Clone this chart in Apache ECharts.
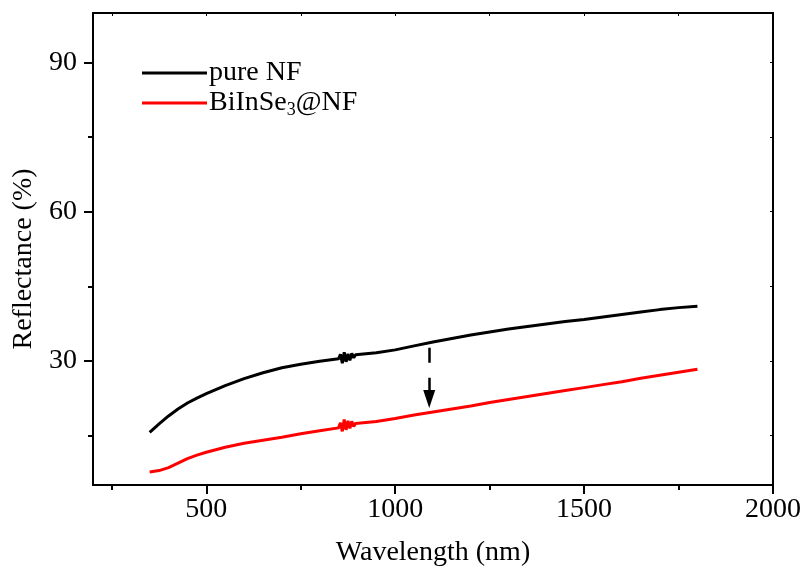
<!DOCTYPE html>
<html>
<head>
<meta charset="utf-8">
<script src="https://cdn.jsdelivr.net/npm/echarts@6/dist/echarts.min.js"></script>
<style>
html,body{margin:0;padding:0;background:#fff;}
#chart{width:806px;height:579px;}
</style>
</head>
<body>
<div id="chart"></div>
<script>
// ---- data ----
const wavelengths = [350,375,400,425,450,475,500,525,550,600,650,700,750,800,850,855,860,865,870,875,880,885,890,895,900,950,1000,1050,1100,1150,1200,1250,1300,1350,1400,1450,1500,1550,1600,1650,1700,1750,1800];
const pureNF = [15.6,17.3,18.9,20.3,21.5,22.5,23.4,24.2,25.0,26.4,27.6,28.6,29.3,29.9,30.4,31.3,29.5,31.7,29.8,31.4,30.1,31.5,30.6,31.2,31.0,31.6,32.2,33.0,33.8,34.5,35.2,35.8,36.4,36.9,37.4,37.9,38.3,38.8,39.3,39.8,40.3,40.7,41.0];
const biInSe3NF = [7.6,7.9,8.5,9.4,10.3,11.0,11.6,12.1,12.6,13.4,14.0,14.6,15.3,15.9,16.5,17.5,15.8,18.2,16.1,17.9,16.4,17.8,16.8,17.4,17.2,17.8,18.4,19.1,19.7,20.3,20.9,21.6,22.2,22.8,23.4,24.0,24.6,25.2,25.8,26.5,27.1,27.7,28.3];
const seriesNames = ['pure NF', 'BiInSe3@NF'];
const xMajorTicks = [500,1000,1500,2000];
const xMinorTicks = [250,750,1250,1750];
const yMajorTicks = [30,60,90];
const yMinorTicks = [15,45,75];
const xRange = [200, 2000];
const yRange = [5, 100];
const arrowX = 1090;
const arrowY = [32.6, 22.3];

const FONT = "'Liberation Serif','Times New Roman',serif";
const toPairs = (xs, ys) => xs.map((x, i) => [x, ys[i]]);
const plain = v => String(v);

const chart = echarts.init(document.getElementById('chart'));
const axisLine = {show: true, lineStyle: {color: '#000', width: 2}};
const labelStyle = {color: '#000', fontFamily: FONT, fontSize: 28, formatter: plain};

const option = {
  backgroundColor: '#fff',
  animation: false,
  grid: {left: 93, right: 33, top: 13, bottom: 94, containLabel: false, outerBoundsMode: 'none'},
  legend: {
    orient: 'vertical', left: 137, top: 54,
    icon: 'rect', itemWidth: 65, itemHeight: 3, itemGap: 0,
    data: seriesNames,
    formatter: function (name) {
      if (name === 'BiInSe3@NF') return '{a|BiInSe}{s|3}{a|@NF}';
      return '{a|' + name + '}';
    },
    textStyle: {
      color: '#000', fontFamily: FONT, fontSize: 28, padding: [0,0,0,-3],
      rich: {
        a: {color: '#000', fontFamily: FONT, fontSize: 28, lineHeight: 30},
        s: {color: '#000', fontFamily: FONT, fontSize: 18, lineHeight: 18, padding: [14,0,0,0]}
      }
    }
  },
  xAxis: [
    {
      type: 'value', min: xRange[0], max: xRange[1], position: 'bottom',
      name: 'Wavelength (nm)', nameLocation: 'middle', nameGap: 54,
      nameTextStyle: {color: '#000', fontFamily: FONT, fontSize: 28},
      axisLine: axisLine,
      axisTick: {show: true, inside: false, length: 9, lineStyle: {color: '#000', width: 2}, customValues: xMajorTicks},
      axisLabel: Object.assign({margin: 11, customValues: xMajorTicks}, labelStyle),
      splitLine: {show: false}
    },
    {
      type: 'value', min: xRange[0], max: xRange[1], position: 'bottom',
      axisLine: {show: false},
      axisTick: {show: true, inside: false, length: 5, lineStyle: {color: '#000', width: 2}, customValues: xMinorTicks},
      axisLabel: {show: false},
      splitLine: {show: false}
    },
    {
      type: 'value', min: xRange[0], max: xRange[1], position: 'top',
      axisLine: axisLine,
      axisTick: {show: true, inside: true, length: 3, lineStyle: {color: '#000', width: 1}, customValues: xMinorTicks.concat(xMajorTicks)},
      axisLabel: {show: false},
      splitLine: {show: false}
    }
  ],
  yAxis: [
    {
      type: 'value', min: yRange[0], max: yRange[1], position: 'left',
      name: 'Reflectance (%)', nameLocation: 'middle', nameGap: 52,
      nameTextStyle: {color: '#000', fontFamily: FONT, fontSize: 28, padding: [0, 20, 0, 0]},
      axisLine: axisLine,
      axisTick: {show: true, inside: false, length: 9, lineStyle: {color: '#000', width: 2}, customValues: yMajorTicks},
      axisLabel: Object.assign({margin: 16, customValues: yMajorTicks}, labelStyle),
      splitLine: {show: false}
    },
    {
      type: 'value', min: yRange[0], max: yRange[1], position: 'left',
      axisLine: {show: false},
      axisTick: {show: true, inside: false, length: 5, lineStyle: {color: '#000', width: 2}, customValues: yMinorTicks},
      axisLabel: {show: false},
      splitLine: {show: false}
    },
    {
      type: 'value', min: yRange[0], max: yRange[1], position: 'right',
      axisLine: axisLine,
      axisTick: {show: true, inside: true, length: 3, lineStyle: {color: '#000', width: 1}, customValues: yMinorTicks.concat(yMajorTicks)},
      axisLabel: {show: false},
      splitLine: {show: false}
    }
  ],
  series: [
    {
      name: seriesNames[0], type: 'line', xAxisIndex: 0, yAxisIndex: 0,
      data: toPairs(wavelengths, pureNF), symbol: 'none',
      lineStyle: {color: '#000', width: 3}, itemStyle: {color: '#000'},
      markLine: {
        silent: true, symbol: ['none', 'triangle'], symbolSize: [12, 18],
        label: {show: false},
        lineStyle: {color: '#000', width: 2.5, type: [15, 15]},
        itemStyle: {color: '#000'},
        data: [[{coord: [arrowX, arrowY[0]]}, {coord: [arrowX, arrowY[1]]}]]
      }
    },
    {
      name: seriesNames[1], type: 'line', xAxisIndex: 0, yAxisIndex: 0,
      data: toPairs(wavelengths, biInSe3NF), symbol: 'none',
      lineStyle: {color: '#ff0000', width: 3}, itemStyle: {color: '#ff0000'}
    }
  ]
};
chart.setOption(option);
</script>
</body>
</html>
